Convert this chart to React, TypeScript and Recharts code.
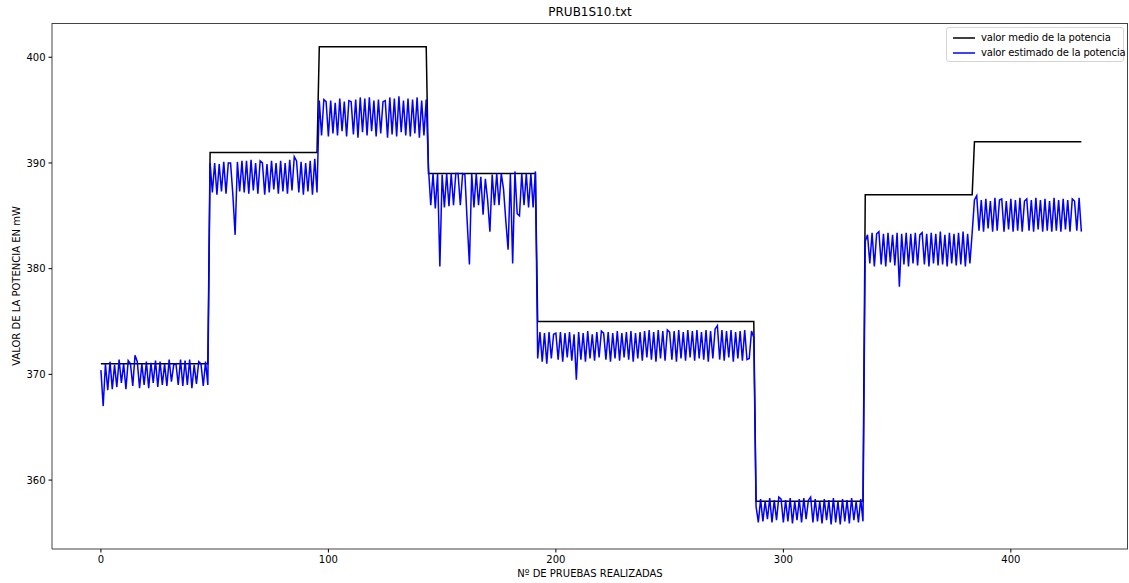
import { LineChart, Line, XAxis, YAxis } from 'recharts'

// valor medio de la potencia: un valor por bloque de pruebas
const mediaBloques = [371, 391, 401, 389, 375, 358, 387, 392]
const largoBloques = [48, 48, 48, 48, 96, 48, 48, 48]

// valor estimado de la potencia, por bloque
const estimado1 = [
  370.4, 367.0, 371.0, 368.5, 371.2, 368.6, 370.9, 368.8, 371.4, 369.2, 371.0, 368.6,
  371.3, 371.0, 368.9, 371.8, 371.2, 368.7, 371.0, 369.0, 371.2, 368.7, 371.1, 369.2,
  371.3, 368.8, 371.2, 369.0, 371.0, 368.9, 371.4, 369.3, 370.9, 371.0, 369.0, 371.4,
  368.9, 371.3, 369.0, 371.4, 368.7, 370.9, 369.1, 371.2, 371.0, 368.9, 371.2, 369.0,
]
const estimado2 = [
  390.0, 387.2, 390.0, 387.0, 389.9, 387.3, 390.1, 387.1, 390.0, 390.0, 387.0, 383.2,
  390.1, 387.3, 390.2, 387.2, 390.2, 387.1, 390.3, 387.4, 390.0, 387.1, 390.2, 390.0,
  387.0, 389.9, 387.2, 390.2, 387.5, 390.0, 387.1, 390.2, 387.3, 390.0, 387.1, 390.3,
  387.4, 390.6, 390.2, 387.2, 390.1, 387.0, 390.0, 387.3, 390.2, 387.0, 390.4, 387.2,
]
const estimado3 = [
  395.9, 392.6, 396.0, 395.8, 392.5, 395.9, 392.8, 395.7, 392.6, 396.1, 393.0, 395.8,
  392.5, 395.9, 395.8, 392.7, 396.0, 392.4, 396.2, 392.9, 396.1, 392.6, 396.2, 393.0,
  395.9, 392.5, 396.0, 392.8, 395.8, 395.9, 392.4, 396.2, 392.7, 396.1, 392.5, 396.3,
  392.9, 395.9, 392.6, 396.1, 392.5, 396.0, 392.8, 396.2, 392.4, 395.9, 392.6, 396.0,
]
const estimado4 = [
  389.5, 386.0, 389.0, 385.7, 389.0, 380.2, 388.9, 385.8, 389.0, 385.9, 389.0, 386.0,
  389.0, 389.0, 386.0, 389.0, 388.9, 384.5, 380.4, 389.0, 385.8, 389.0, 386.0, 388.7,
  385.1, 388.5, 386.5, 383.5, 388.9, 386.0, 389.0, 386.0, 389.0, 387.5, 384.5, 381.8,
  389.0, 380.5, 389.2, 385.2, 385.0, 389.0, 386.0, 389.0, 385.8, 389.0, 385.8, 389.2,
]
const estimado5 = [
  371.5, 374.0, 371.2, 373.9, 371.0, 374.0, 371.5, 373.8, 373.9, 371.4, 374.0, 371.2,
  373.9, 371.6, 374.0, 371.3, 373.8, 369.5, 374.0, 371.4, 373.9, 371.2, 374.1, 371.5,
  373.8, 371.3, 374.0, 371.6, 374.1, 373.9, 371.4, 374.0, 371.2, 373.9, 371.5, 374.1,
  371.3, 373.9, 371.6, 374.0, 371.4, 374.1, 371.2, 373.9, 371.5, 374.0, 371.3, 374.1,
  371.6, 374.2, 371.4, 374.0, 371.2, 374.2, 371.5, 374.1, 371.3, 374.2, 374.0, 371.4,
  374.1, 371.2, 374.2, 371.5, 374.0, 371.3, 374.2, 371.6, 374.1, 371.3, 374.2, 371.5,
  374.0, 371.4, 374.2, 371.2, 374.1, 371.5, 374.3, 374.6, 371.4, 374.2, 371.3, 374.1,
  371.6, 374.2, 371.2, 374.0, 371.5, 374.1, 371.3, 374.2, 371.4, 371.5, 374.1, 373.5,
]
const estimado6 = [
  357.5, 356.0, 358.2, 356.1, 358.0, 356.3, 358.3, 356.0, 358.1, 356.2, 358.4, 358.2,
  356.0, 358.1, 356.1, 358.3, 355.9, 358.0, 356.2, 358.2, 356.0, 358.3, 356.3, 358.1,
  358.4, 356.0, 358.2, 356.1, 358.0, 355.9, 358.2, 356.2, 358.1, 355.8, 358.3, 356.0,
  358.0, 355.8, 358.2, 356.1, 358.1, 355.9, 358.3, 356.2, 358.0, 356.0, 358.2, 356.1,
]
const estimado7 = [
  382.6, 383.2, 380.5, 383.4, 380.2, 383.3, 383.5, 380.4, 383.3, 380.2, 383.4, 380.6,
  383.2, 380.3, 383.4, 378.3, 383.3, 380.4, 383.4, 380.2, 383.3, 380.5, 383.4, 380.3,
  383.2, 383.4, 380.4, 383.3, 380.2, 383.4, 380.5, 383.3, 380.3, 383.5, 380.4, 383.2,
  380.2, 383.4, 380.5, 383.3, 380.3, 383.4, 380.4, 383.5, 380.2, 383.3, 380.5, 383.4,
]
const estimado8 = [
  386.5, 386.9, 383.6, 386.5, 383.5, 386.6, 383.8, 386.4, 383.5, 386.7, 383.6, 386.5,
  386.6, 383.5, 386.4, 383.7, 386.6, 383.5, 386.5, 383.6, 386.7, 383.5, 386.4, 386.6,
  383.6, 386.5, 383.5, 386.7, 383.7, 386.5, 383.5, 386.6, 383.6, 386.4, 383.5, 386.7,
  383.6, 386.5, 383.5, 386.6, 383.7, 386.5, 383.5, 386.6, 386.4, 383.6, 386.7, 383.5,
]

const xTicks = [0, 100, 200, 300, 400]
const yTicks = [360, 370, 380, 390, 400]

const estimado = [
  ...estimado1, ...estimado2, ...estimado3, ...estimado4,
  ...estimado5, ...estimado6, ...estimado7, ...estimado8,
]
const medio = mediaBloques.flatMap((v, i) => Array(largoBloques[i]).fill(v))
const data = estimado.map((v, i) => ({ x: i, medio: medio[i], estimado: v }))

const font = '"DejaVu Sans", sans-serif'
const tickStyle = { fontSize: 10, fill: '#000', fontFamily: font }
const frame = '#444'

// caja del gráfico (px)
const plot = { left: 52, top: 23, right: 1128, bottom: 549 }

function Leyenda() {
  const items = [
    { color: '#000000', label: 'valor medio de la potencia' },
    { color: '#0000ff', label: 'valor estimado de la potencia' },
  ]
  return (
    <div
      style={{
        position: 'absolute',
        left: 946,
        top: 27,
        width: 178,
        height: 35,
        boxSizing: 'border-box',
        border: '1px solid #d5d5d5',
        borderRadius: 3,
        background: 'rgba(255,255,255,0.8)',
        padding: '2px 0 0 5px',
        fontFamily: font,
        fontSize: 10,
        color: '#000',
        whiteSpace: 'nowrap',
      }}
    >
      {items.map((it) => (
        <div key={it.label} style={{ display: 'flex', alignItems: 'center', height: 15 }}>
          <svg width={29} height={4} style={{ flex: 'none' }}>
            <line x1={1} y1={2} x2={23} y2={2} stroke={it.color} strokeWidth={1.5} />
          </svg>
          <span style={{ letterSpacing: -0.15 }}>{it.label}</span>
        </div>
      ))}
    </div>
  )
}

export default function App() {
  return (
    <div style={{ position: 'absolute', left: 0, top: 0, width: 1129, height: 583, background: '#fff' }}>
      <div style={{ position: 'absolute', left: 52, width: 1076, top: 5, textAlign: 'center', fontFamily: font, fontSize: 12 }}>
        PRUB1S10.txt
      </div>
      <div style={{ position: 'absolute', left: 52, width: 1076, top: 568, textAlign: 'center', fontFamily: font, fontSize: 10 }}>
        Nº DE PRUEBAS REALIZADAS
      </div>
      <div
        style={{
          position: 'absolute', left: 16, top: 286, fontFamily: font, fontSize: 10, whiteSpace: 'nowrap',
          transform: 'translate(-50%, -50%) rotate(-90deg)',
        }}
      >
        VALOR DE LA POTENCIA EN mW
      </div>
      <LineChart width={1129} height={583} data={data} margin={{ top: plot.top, right: 1129 - plot.right, left: 0, bottom: 0 }}>
        <XAxis
          dataKey="x"
          type="number"
          domain={[-21.5, 451.5]}
          ticks={xTicks}
          allowDataOverflow
          height={583 - plot.bottom}
          tickSize={3.5}
          tickMargin={3}
          tick={tickStyle}
          stroke={frame}
          tickLine={{ stroke: '#000' }}
        />
        <YAxis
          domain={[353.48, 403.24]}
          ticks={yTicks}
          allowDataOverflow
          width={plot.left}
          tickSize={3.5}
          tickMargin={3}
          tick={tickStyle}
          stroke={frame}
          tickLine={{ stroke: '#000' }}
        />
        <Line dataKey="medio" stroke="#000000" strokeWidth={1.5} dot={false} isAnimationActive={false} />
        <Line dataKey="estimado" stroke="#0000ff" strokeWidth={1.5} dot={false} isAnimationActive={false} />
      </LineChart>
      <div
        style={{
          position: 'absolute',
          left: plot.left,
          top: plot.top,
          width: plot.right - plot.left,
          height: plot.bottom - plot.top,
          borderTop: `1px solid ${frame}`,
          borderRight: `1px solid ${frame}`,
          boxSizing: 'border-box',
          pointerEvents: 'none',
        }}
      />
      <Leyenda />
    </div>
  )
}
